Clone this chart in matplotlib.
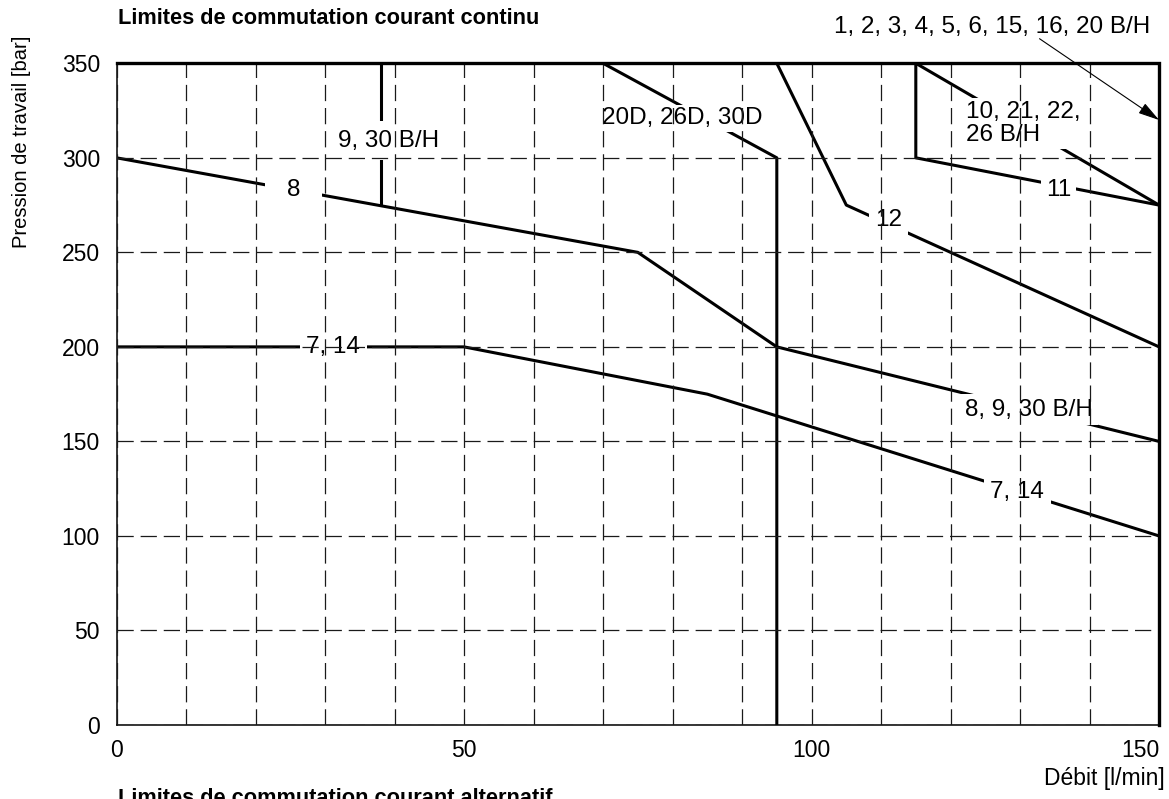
import matplotlib
matplotlib.use('Agg')
import matplotlib.pyplot as plt

plt.rcParams['font.family'] = ['Liberation Sans', 'DejaVu Sans']

# switching limit curves, flow [l/min] vs pressure [bar]
env_x = [0, 150, 150]          # 1, 2, 3, 4, 5, 6, 15, 16, 20 B/H
env_y = [350, 350, 0]
c8_x = [0, 75, 95, 150]        # 8 / 8, 9, 30 B/H
c8_y = [300, 250, 200, 150]
c714_x = [0, 50, 85, 150]      # 7, 14
c714_y = [200, 200, 175, 100]
c9_x = [38, 38]                # 9, 30 B/H
c9_y = [350, 275]
c20d_x = [70, 95, 95]          # 20D, 26D, 30D
c20d_y = [350, 300, 0]
c12_x = [95, 105, 150]         # 12
c12_y = [350, 275, 200]
c10_x = [115, 150]             # 10, 21, 22, 26 B/H
c10_y = [350, 275]
c11_x = [115, 115, 150]        # 11
c11_y = [350, 300, 275]

curves = [(c8_x, c8_y), (c714_x, c714_y), (c9_x, c9_y), (c20d_x, c20d_y),
          (c12_x, c12_y), (c10_x, c10_y), (c11_x, c11_y)]

x_ticks = [0, 50, 100, 150]
x_minor = list(range(0, 151, 10))
y_ticks = [0, 50, 100, 150, 200, 250, 300, 350]

# curve labels: text, x, y
lab_text = ['8', '9, 30 B/H', '7, 14', '20D, 26D, 30D', '12', '11',
            '8, 9, 30 B/H', '7, 14']
lab_x = [25.5, 39.2, 31.2, 81.4, 111.1, 135.6, 131.3, 129.6]
lab_y = [283, 309, 200, 321, 267.3, 283.2, 166.8, 123.5]
lab_pad = [0.9, 0.35, 0.27, 0.1, 0.25, 0.2, 0.19, 0.27]

fig = plt.figure(figsize=(11.69, 7.99), dpi=100)
ax = fig.add_axes([0.0997, 0.0926, 0.8918, 0.8282])

ax.set_xlim(0, 150)
ax.set_ylim(0, 350)
ax.set_xticks(x_ticks, [str(v) for v in x_ticks])
ax.set_xticks(x_minor, minor=True)
ax.set_yticks(y_ticks, [str(v) for v in y_ticks])
ax.get_xticklabels()[-1].set_horizontalalignment('right')

dash = (0, (13, 5.5))
ax.grid(which='both', axis='x', color='0.1', lw=0.9, linestyle=dash)
ax.grid(which='major', axis='y', color='0.1', lw=0.9, linestyle=dash)
ax.xaxis.set_zorder(2.6)
ax.yaxis.set_zorder(2.6)

ax.tick_params(which='both', length=0)
ax.tick_params(axis='y', labelsize=16.5, pad=12)
ax.tick_params(axis='x', labelsize=16.5, pad=10)
for s in ['top', 'right']:
    ax.spines[s].set_visible(False)
for s in ['left', 'bottom']:
    ax.spines[s].set_linewidth(1.1)

for xs, ys in curves:
    ax.plot(xs, ys, color='black', lw=2.2, zorder=2, solid_capstyle='butt')
ax.plot(env_x, env_y, color='black', lw=2.4, zorder=3, clip_on=False,
        solid_joinstyle='miter')

for t, x, y, p in zip(lab_text, lab_x, lab_y, lab_pad):
    ax.text(x, y, t, fontsize=17.5, ha='center', va='center', zorder=2.3,
            bbox=dict(boxstyle='square,pad=%s' % p, fc='white', ec='none'))
ax.text(122.2, 318, '10, 21, 22,\n26 B/H', fontsize=17.5, ha='left',
        va='center', linespacing=1.05, zorder=2.3,
        bbox=dict(boxstyle='square,pad=0.12', fc='white', ec='none'))

ax.annotate('', xy=(150, 320), xytext=(132.8, 363), annotation_clip=False,
            arrowprops=dict(arrowstyle='-|>,head_length=0.65,head_width=0.18',
                            color='black', lw=0.8, mutation_scale=20,
                            shrinkA=0, shrinkB=0), zorder=4)

fig.text(118 / 1169, 1 - 19 / 799, 'Limites de commutation courant continu',
         fontsize=15.7, fontweight='bold', ha='left', va='center')
fig.text(1150 / 1169, 1 - 27 / 799, '1, 2, 3, 4, 5, 6, 15, 16, 20 B/H',
         fontsize=17.5, ha='right', va='center')
fig.text(22 / 1169, 1 - 142 / 799, 'Pression de travail [bar]',
         fontsize=14.5, rotation=90, ha='center', va='center')
fig.text(1165 / 1169, 1 - 779 / 799, 'Débit [l/min]',
         fontsize=16.5, ha='right', va='center')
fig.text(118 / 1169, 1 - 788 / 799, 'Limites de commutation courant alternatif',
         fontsize=15.7, fontweight='bold', ha='left', va='top')

fig.savefig('out.png', dpi=100)
